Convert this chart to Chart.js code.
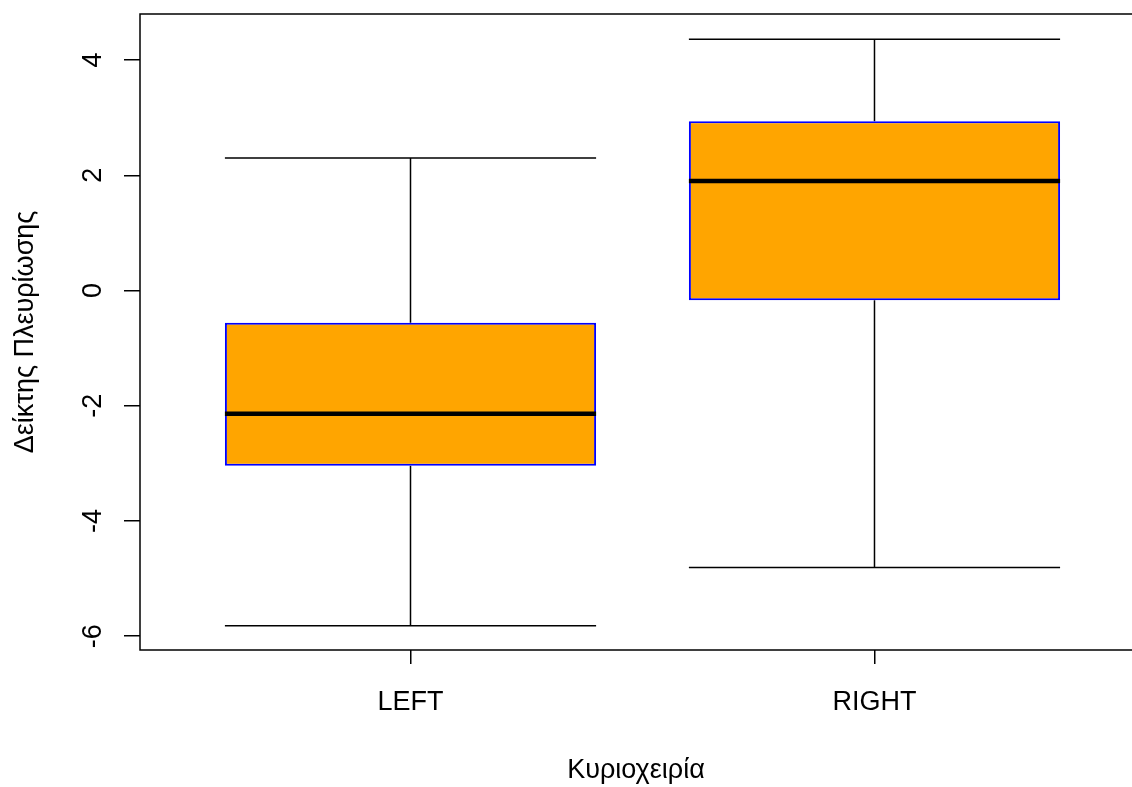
<!DOCTYPE html>
<html>
<head>
<meta charset="utf-8">
<script src="https://cdn.jsdelivr.net/npm/chart.js@4/dist/chart.umd.min.js"></script>
<style>
  html, body { margin: 0; padding: 0; background: #fff; overflow: hidden; width: 1132px; height: 787px; }
  canvas { display: block; }
</style>
</head>
<body>
<canvas id="c" width="1132" height="787" style="width:1132px;height:787px"></canvas>
<script>
// Five-number summaries per handedness group
const categories = ['LEFT', 'RIGHT'];
const lowerWhisker = [-5.82, -4.81];
const firstQuartile = [-3.04, -0.17];
const medians = [-2.14, 1.90];
const thirdQuartile = [-0.56, 2.94];
const upperWhisker = [2.30, 4.36];

const yTickValues = [-6, -4, -2, 0, 2, 4];
const xTickValues = [1, 2];
const xTitle = 'Κυριοχειρία';
const yTitle = 'Δείκτης Πλευρίωσης';

const halfBox = 0.4;           // box half-width in x units
const xFrameMax = 2.583;       // right edge of the plotting frame (past the canvas edge)
const FONT = "'Liberation Sans', Arial, sans-serif";
const FS = 27;

// Box bodies as floating bars
const boxData = categories.map((c, i) => ({ x: i + 1, y: [firstQuartile[i], thirdQuartile[i]] }));

// Whiskers and staples as broken line segments
const whiskerData = [];
categories.forEach((c, i) => {
  const x = i + 1;
  const gap = { x: x, y: null };
  whiskerData.push({ x: x, y: thirdQuartile[i] }, { x: x, y: upperWhisker[i] }, gap);
  whiskerData.push({ x: x, y: firstQuartile[i] }, { x: x, y: lowerWhisker[i] }, gap);
  whiskerData.push({ x: x - halfBox, y: upperWhisker[i] }, { x: x + halfBox, y: upperWhisker[i] }, gap);
  whiskerData.push({ x: x - halfBox, y: lowerWhisker[i] }, { x: x + halfBox, y: lowerWhisker[i] }, gap);
});

// Median bars
const medianData = [];
categories.forEach((c, i) => {
  const x = i + 1;
  medianData.push({ x: x - halfBox, y: medians[i] }, { x: x + halfBox, y: medians[i] }, { x: x, y: null });
});

// Frame around the plotting region
const framePlugin = {
  id: 'frame',
  afterDatasetsDraw(chart) {
    const { ctx, chartArea: a, scales } = chart;
    const right = scales.x.getPixelForValue(xFrameMax);
    ctx.save();
    ctx.strokeStyle = '#000';
    ctx.lineWidth = 1.5;
    ctx.strokeRect(a.left, a.top, right - a.left, a.bottom - a.top);
    ctx.restore();
  }
};

function noOverhang(s) {
  s.paddingTop = 0; s.paddingBottom = 0; s.paddingLeft = 0; s.paddingRight = 0;
}

new Chart(document.getElementById('c'), {
  type: 'bar',
  data: {
    datasets: [
      {
        type: 'line',
        data: medianData,
        borderColor: '#000',
        borderWidth: 4.5,
        borderCapStyle: 'butt',
        pointRadius: 0,
        spanGaps: false,
        order: 0
      },
      {
        type: 'bar',
        data: boxData,
        backgroundColor: '#FFA500',
        borderColor: '#0000FF',
        borderWidth: 2,
        borderSkipped: false,
        categoryPercentage: 1,
        barPercentage: 2 * halfBox,
        order: 1
      },
      {
        type: 'line',
        data: whiskerData,
        borderColor: '#000',
        borderWidth: 1.5,
        borderCapStyle: 'butt',
        pointRadius: 0,
        spanGaps: false,
        order: 2
      }
    ]
  },
  options: {
    responsive: false,
    animation: false,
    devicePixelRatio: 1,
    layout: { padding: { top: 14, right: 0, left: 0, bottom: 0 } },
    plugins: { legend: { display: false }, tooltip: { enabled: false } },
    scales: {
      x: {
        type: 'linear',
        offset: false,
        min: 0.417,
        max: 2.555,
        afterBuildTicks(s) { s.ticks = xTickValues.map(v => ({ value: v })); },
        afterFit(s) { s.height = 137; noOverhang(s); },
        border: { display: false },
        grid: { offset: false, drawOnChartArea: false, drawTicks: true, tickLength: 14, color: '#000', lineWidth: 1.5 },
        ticks: {
          color: '#000',
          font: { family: FONT, size: FS },
          padding: 22,
          maxRotation: 0,
          autoSkip: false,
          callback: (v) => categories[v - 1]
        },
        title: {
          display: true,
          text: xTitle,
          color: '#000',
          font: { family: FONT, size: FS },
          padding: { top: 0, bottom: 0 }
        }
      },
      y: {
        type: 'linear',
        min: -6.24,
        max: 4.80,
        afterBuildTicks(s) { s.ticks = yTickValues.map(v => ({ value: v })); },
        afterFit(s) { s.width = 140; noOverhang(s); },
        border: { display: false },
        grid: { drawOnChartArea: false, drawTicks: true, tickLength: 16, color: '#000', lineWidth: 1.5 },
        ticks: {
          color: '#000',
          font: { family: FONT, size: FS },
          padding: 18,
          minRotation: 90,
          maxRotation: 90,
          crossAlign: 'center',
          autoSkip: false
        },
        title: {
          display: true,
          text: yTitle,
          color: '#000',
          font: { family: FONT, size: FS },
          padding: { top: 9, bottom: 0 }
        }
      }
    }
  },
  plugins: [framePlugin]
});
</script>
</body>
</html>
